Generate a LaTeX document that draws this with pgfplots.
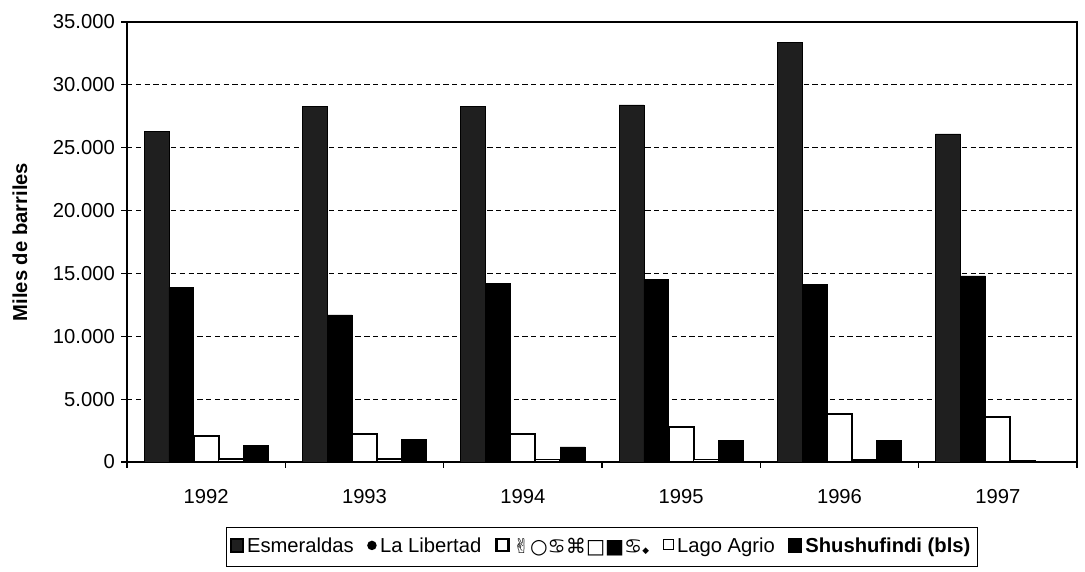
\documentclass[border=0pt]{standalone}
\usepackage{pgfplots}
\pgfplotsset{compat=1.18}
\usepackage{fontspec}
\setmainfont{Liberation Sans}
\newfontfamily\symfont{DejaVu Sans}

\begin{document}
\begin{tikzpicture}
\useasboundingbox (0,0) rectangle (21.7cm,-11.44cm);
\begin{axis}[
    at={(2.54cm,-9.24cm)}, anchor=south west,
    scale only axis,
    width=19.0cm, height=8.8cm,
    ybar=0pt, bar width=0.157,
    xmin=0, xmax=6,
    ymin=0, ymax=35000,
    xtick={0,1,...,6}, xticklabels=\empty,
    extra x ticks={0.5,1.5,...,5.5},
    extra x tick labels={1992,1993,1994,1995,1996,1997},
    extra x tick style={major tick length=0pt, grid=none},
    ytick={0,5000,...,35000},
    scaled y ticks=false,
    tick align=outside, tick pos=left,
    major tick length=0.12cm,
    ymajorgrids=true,
    grid style={densely dashed, black, line width=0.6pt},
    axis line style={line width=1pt},
    tick style={black, line width=0.6pt},
    ticklabel style={font=\fontsize{11.5}{13}\selectfont},
    yticklabel style={/pgf/number format/.cd, 1000 sep={.}, assume math mode=true},
    xticklabel style={yshift=-0.42cm},
    ylabel={\bfseries Miles de barriles},
    ylabel style={font=\fontsize{11.5}{13}\selectfont,
        at={([xshift=-2.14cm]axis description cs:0,0.5)}, anchor=center},
    legend style={at={(rel axis cs:0.5,-0.193)}, anchor=center,
        draw=black, line width=0.8pt,
        font=\fontsize{11.5}{13}\selectfont,
        legend columns=-1, inner xsep=2pt, inner ysep=4pt,
        /tikz/every even column/.append style={column sep=0.2cm}},
    legend cell align=left,
]
% Esmeraldas
\addplot[fill=black!88, draw=black,
    legend image code/.code={\draw[fill=black!88] (0cm,-0.1cm) rectangle (0.24cm,0.16cm);}]
coordinates {(0.5,26300) (1.5,28300) (2.5,28300) (3.5,28400) (4.5,33400) (5.5,26100)};
% La Libertad
\addplot[fill=black, draw=black,
    legend image code/.code={\fill[black] (0.12cm,0.03cm) circle (0.08cm);}]
coordinates {(0.5,13900) (1.5,11700) (2.5,14200) (3.5,14500) (4.5,14100) (5.5,14800)};
% third refinery
\addplot[fill=white, draw=black, line width=1.2pt,
    legend image code/.code={\draw[line width=1.6pt, fill=white] (0cm,-0.08cm) rectangle (0.24cm,0.16cm);}]
coordinates {(0.5,2100) (1.5,2200) (2.5,2200) (3.5,2800) (4.5,3800) (5.5,3600)};
% Lago Agrio
\addplot[fill=white, draw=black, line width=0.8pt,
    legend image code/.code={\draw[line width=0.6pt, fill=white] (0.02cm,-0.06cm) rectangle (0.22cm,0.14cm);}]
coordinates {(0.5,250) (1.5,250) (2.5,200) (3.5,200) (4.5,150) (5.5,100)};
% Shushufindi
\addplot[fill=black, draw=black,
    legend image code/.code={\fill[black] (0cm,-0.1cm) rectangle (0.24cm,0.16cm);}]
coordinates {(0.5,1300) (1.5,1800) (2.5,1200) (3.5,1700) (4.5,1700) (5.5,50)};
\legend{Esmeraldas, La Libertad, {\symfont ✌○♋⌘□■♋{\tiny◆}}, Lago Agrio, \textbf{Shushufindi (bls)}}
\end{axis}
\end{tikzpicture}
\end{document}
